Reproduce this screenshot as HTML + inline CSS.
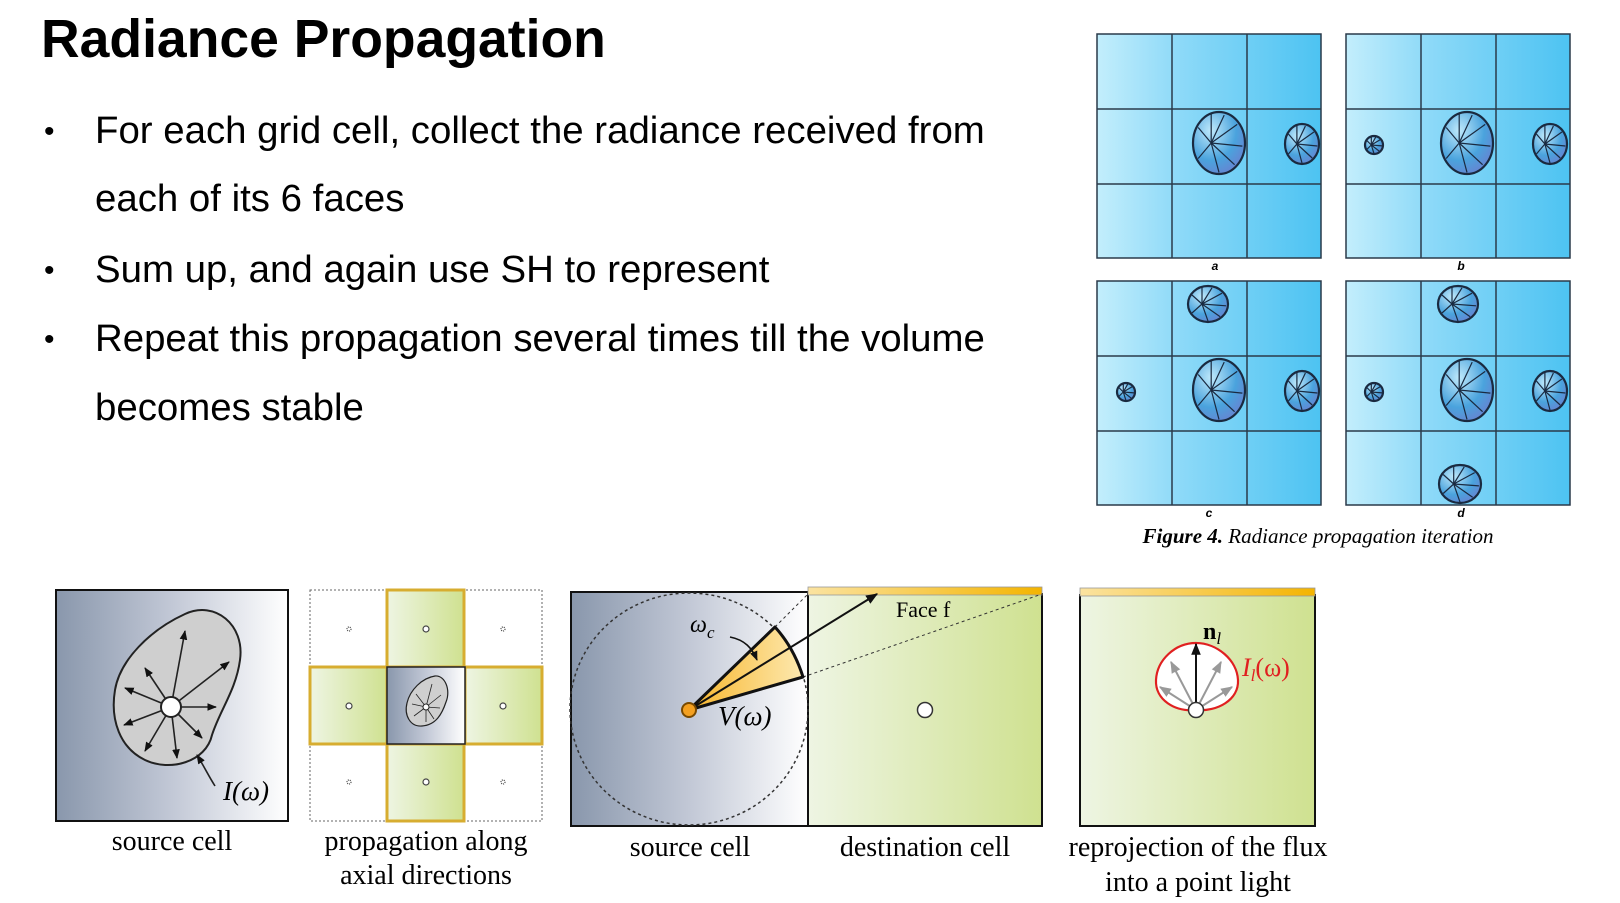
<!DOCTYPE html>
<html><head><meta charset="utf-8"><style>
html,body{margin:0;padding:0;background:#fff;}
body{width:1620px;height:903px;overflow:hidden;position:relative;font-family:"Liberation Sans",sans-serif;}
.t{position:absolute;left:41px;top:9px;font-size:53.5px;font-weight:bold;color:#000;}
.b{position:absolute;left:95px;font-size:38.4px;color:#000;white-space:nowrap;}
.d{position:absolute;left:44px;font-size:30px;}
svg{position:absolute;left:0;top:0;}
</style></head><body>
<div class="t">Radiance Propagation</div>
<div class="d" style="top:115px">•</div>
<div class="b" style="top:109px">For each grid cell, collect the radiance received from</div>
<div class="b" style="top:177px">each of its 6 faces</div>
<div class="d" style="top:254px">•</div>
<div class="b" style="top:248px">Sum up, and again use SH to represent</div>
<div class="d" style="top:323px">•</div>
<div class="b" style="top:317px">Repeat this propagation several times till the volume</div>
<div class="b" style="top:386px">becomes stable</div>

<svg width="1620" height="903" viewBox="0 0 1620 903" font-family="Liberation Serif, serif">
<defs>
<linearGradient id="bl" x1="0" x2="1" y1="0" y2="0"><stop offset="0" stop-color="#c3eefc"/><stop offset="0.35" stop-color="#8fdaf8"/><stop offset="1" stop-color="#4dc3f2"/></linearGradient>
<radialGradient id="lb" cx="0.35" cy="0.3" r="0.8"><stop offset="0" stop-color="#bfe9fb"/><stop offset="0.6" stop-color="#4aa3dd"/><stop offset="1" stop-color="#6a7fd0"/></radialGradient>
<linearGradient id="gr" x1="0" x2="1"><stop offset="0" stop-color="#8997ac"/><stop offset="0.5" stop-color="#c2c8d6"/><stop offset="1" stop-color="#ffffff"/></linearGradient>
<linearGradient id="gn" x1="0" x2="1"><stop offset="0" stop-color="#eef5e3"/><stop offset="1" stop-color="#cfe190"/></linearGradient>
<linearGradient id="yl" x1="0" x2="1"><stop offset="0" stop-color="#fbe3a0"/><stop offset="1" stop-color="#f4b400"/></linearGradient>
<linearGradient id="wd" x1="0" x2="1"><stop offset="0" stop-color="#f7b52a"/><stop offset="1" stop-color="#fde9b0"/></linearGradient>
<g id="lobe">
<ellipse cx="0" cy="0" rx="1" ry="1" fill="url(#lb)" stroke="#1a2a40" stroke-width="2.2" vector-effect="non-scaling-stroke"/>
<g stroke="#1a2a40" stroke-width="1.2" vector-effect="non-scaling-stroke">
<line x1="-0.3" y1="0" x2="0.2" y2="-0.9" vector-effect="non-scaling-stroke"/><line x1="-0.3" y1="0" x2="0.7" y2="-0.6" vector-effect="non-scaling-stroke"/>
<line x1="-0.3" y1="0" x2="0.9" y2="0.1" vector-effect="non-scaling-stroke"/><line x1="-0.3" y1="0" x2="0.6" y2="0.7" vector-effect="non-scaling-stroke"/>
<line x1="-0.3" y1="0" x2="0" y2="0.95" vector-effect="non-scaling-stroke"/><line x1="-0.3" y1="0" x2="-0.8" y2="0.5" vector-effect="non-scaling-stroke"/>
<line x1="-0.3" y1="0" x2="-0.8" y2="-0.5" vector-effect="non-scaling-stroke"/><line x1="-0.3" y1="0" x2="-0.3" y2="-0.95" vector-effect="non-scaling-stroke"/>
</g></g>
<g id="grid">
<rect x="0" y="0" width="224" height="224" fill="url(#bl)" stroke="#2a3a4a" stroke-width="1.5"/>
<path d="M75 0V224M150 0V224M0 75H224M0 150H224" stroke="#2a3a4a" stroke-width="1.5"/>
</g>
<marker id="ar" viewBox="0 0 10 10" refX="9" refY="5" markerWidth="6" markerHeight="6" orient="auto"><path d="M0 1L10 5L0 9z" fill="#111"/></marker>
<marker id="ag" viewBox="0 0 10 10" refX="9" refY="5" markerWidth="6" markerHeight="6" orient="auto"><path d="M0 1L10 5L0 9z" fill="#999"/></marker>
</defs>

<use href="#grid" x="1097" y="34"/>
<use href="#grid" x="1346" y="34"/>
<use href="#grid" x="1097" y="281"/>
<use href="#grid" x="1346" y="281"/>
<use href="#lobe" transform="translate(1219,143) scale(26,31)"/>
<use href="#lobe" transform="translate(1302,144) scale(17,20)"/>
<use href="#lobe" transform="translate(1374,145) scale(9,9)"/>
<use href="#lobe" transform="translate(1467,143) scale(26,31)"/>
<use href="#lobe" transform="translate(1550,144) scale(17,20)"/>
<use href="#lobe" transform="translate(1208,304) scale(20,18)"/>
<use href="#lobe" transform="translate(1126,392) scale(9,9)"/>
<use href="#lobe" transform="translate(1219,390) scale(26,31)"/>
<use href="#lobe" transform="translate(1302,391) scale(17,20)"/>
<use href="#lobe" transform="translate(1458,304) scale(20,18)"/>
<use href="#lobe" transform="translate(1374,392) scale(9,9)"/>
<use href="#lobe" transform="translate(1467,390) scale(26,31)"/>
<use href="#lobe" transform="translate(1550,391) scale(17,20)"/>
<use href="#lobe" transform="translate(1460,484) scale(21,19)"/>
<g font-size="12" font-weight="bold" font-style="italic" text-anchor="middle" font-family="Liberation Sans, sans-serif">
<text x="1215" y="270">a</text><text x="1461" y="270">b</text><text x="1209" y="517">c</text><text x="1461" y="517">d</text></g>
<text x="1318" y="543" font-size="21" text-anchor="middle" font-style="italic"><tspan font-weight="bold">Figure 4.</tspan> Radiance propagation iteration</text>

<rect x="56" y="590" width="232" height="231" fill="url(#gr)" stroke="#111" stroke-width="2"/>
<path d="M185 614C215 600 245 625 240 660C236 690 220 710 212 735C206 762 170 772 145 760C120 748 110 720 115 690C120 660 150 630 185 614Z" fill="#cfcfcf" stroke="#222" stroke-width="2"/>
<g stroke="#222" stroke-width="1.6" marker-end="url(#ar)">
<line x1="171" y1="707" x2="185" y2="631"/><line x1="171" y1="707" x2="229" y2="662"/><line x1="171" y1="707" x2="216" y2="707"/>
<line x1="171" y1="707" x2="202" y2="738"/><line x1="171" y1="707" x2="177" y2="758"/><line x1="171" y1="707" x2="145" y2="751"/>
<line x1="171" y1="707" x2="124" y2="725"/><line x1="171" y1="707" x2="125" y2="688"/><line x1="171" y1="707" x2="145" y2="668"/></g>
<circle cx="171" cy="707" r="10" fill="#fff" stroke="#222" stroke-width="2"/>
<path d="M215 786C208 775 205 768 197 755" fill="none" stroke="#222" stroke-width="1.6" marker-end="url(#ar)"/>
<text x="223" y="800" font-size="27" font-style="italic">I(ω)</text>
<text x="172" y="850" font-size="28" text-anchor="middle">source cell</text>

<rect x="310" y="590" width="232" height="231" fill="none" stroke="#666" stroke-dasharray="2,2"/>
<g fill="url(#gn)" stroke="#d7ad30" stroke-width="3">
<rect x="387" y="590" width="77" height="77"/><rect x="387" y="744" width="77" height="77"/>
<rect x="310" y="667" width="77" height="77"/><rect x="465" y="667" width="77" height="77"/></g>
<rect x="387" y="667" width="78" height="77" fill="url(#gr)" stroke="#222" stroke-width="1.5"/>
<path d="M435 676C445 675 451 690 446 702C442 714 436 725 422 726C410 727 404 715 407 703C410 690 422 678 435 676Z" fill="#cfcfcf" stroke="#222" stroke-width="1.2"/>
<g stroke="#222" stroke-width="0.8"><line x1="426" y1="707" x2="432" y2="684"/><line x1="426" y1="707" x2="441" y2="695"/><line x1="426" y1="707" x2="440" y2="708"/><line x1="426" y1="707" x2="434" y2="719"/><line x1="426" y1="707" x2="426" y2="722"/><line x1="426" y1="707" x2="414" y2="716"/><line x1="426" y1="707" x2="412" y2="704"/><line x1="426" y1="707" x2="416" y2="694"/></g>
<circle cx="426" cy="707" r="3" fill="#fff" stroke="#222"/>
<g fill="#fff" stroke="#444" stroke-width="1.2">
<circle cx="426" cy="629" r="3"/><circle cx="426" cy="782" r="3"/><circle cx="349" cy="706" r="3"/><circle cx="503" cy="706" r="3"/>
<circle cx="349" cy="629" r="2" stroke-dasharray="1,1"/><circle cx="503" cy="629" r="2" stroke-dasharray="1,1"/><circle cx="349" cy="782" r="2" stroke-dasharray="1,1"/><circle cx="503" cy="782" r="2" stroke-dasharray="1,1"/></g>
<text x="426" y="850" font-size="28" text-anchor="middle">propagation along</text>
<text x="426" y="884" font-size="28" text-anchor="middle">axial directions</text>

<rect x="571" y="592" width="237" height="234" fill="url(#gr)" stroke="#111" stroke-width="2"/>
<rect x="808" y="594" width="234" height="232" fill="url(#gn)" stroke="#111" stroke-width="2"/>
<rect x="808" y="587" width="234" height="8" fill="url(#yl)" stroke="#999" stroke-width="0.8"/>
<ellipse cx="689" cy="709" rx="119" ry="116" fill="none" stroke="#333" stroke-width="1.5" stroke-dasharray="3,3"/>
<line x1="775" y1="627" x2="808" y2="594" stroke="#333" stroke-dasharray="3,3"/>
<line x1="803" y1="677" x2="1042" y2="594" stroke="#333" stroke-dasharray="3,3"/>
<path d="M689 710L775 627Q794 648 803 677Z" fill="url(#wd)" stroke="#111" stroke-width="3" stroke-linejoin="round"/>
<line x1="689" y1="710" x2="877" y2="594" stroke="#111" stroke-width="2" marker-end="url(#ar)"/>
<path d="M730 637C745 640 752 648 757 660" fill="none" stroke="#111" stroke-width="1.6" marker-end="url(#ar)"/>
<circle cx="689" cy="710" r="7" fill="#f4a020" stroke="#7a4a00" stroke-width="2"/>
<circle cx="925" cy="710" r="7.5" fill="#fff" stroke="#333" stroke-width="1.5"/>
<text x="896" y="617" font-size="22">Face f</text>
<text x="690" y="632" font-size="24" font-style="italic">ω<tspan font-size="17" dy="6">c</tspan></text>
<text x="718" y="725" font-size="27" font-style="italic">V(ω)</text>
<text x="690" y="856" font-size="28" text-anchor="middle">source cell</text>
<text x="925" y="856" font-size="28" text-anchor="middle">destination cell</text>

<rect x="1080" y="595" width="235" height="231" fill="url(#gn)" stroke="#111" stroke-width="2"/>
<rect x="1080" y="588" width="235" height="8" fill="url(#yl)" stroke="#999" stroke-width="0.8"/>
<path d="M1196 710C1175 712 1155 700 1156 680C1157 660 1175 643 1196 643C1217 643 1237 660 1238 680C1239 700 1217 712 1196 710Z" fill="#fff" stroke="#e02020" stroke-width="2.2"/>
<g stroke="#999" stroke-width="2" marker-end="url(#ag)">
<line x1="1196" y1="710" x2="1171" y2="662"/><line x1="1196" y1="710" x2="1221" y2="662"/>
<line x1="1196" y1="710" x2="1160" y2="687"/><line x1="1196" y1="710" x2="1232" y2="687"/></g>
<line x1="1196" y1="710" x2="1196" y2="644" stroke="#111" stroke-width="2" marker-end="url(#ar)"/>
<circle cx="1196" cy="710" r="7.5" fill="#fff" stroke="#333" stroke-width="1.5"/>
<text x="1203" y="639" font-size="24" font-weight="bold">n<tspan font-size="17" font-weight="normal" font-style="italic" dy="5">l</tspan></text>
<text x="1242" y="676" font-size="26" font-style="italic" fill="#e02020">I<tspan font-size="17" dy="5">l</tspan><tspan dy="-5" font-style="normal">(ω)</tspan></text>
<text x="1198" y="856" font-size="28" text-anchor="middle">reprojection of the flux</text>
<text x="1198" y="891" font-size="28" text-anchor="middle">into a point light</text>
</svg>
</body></html>
